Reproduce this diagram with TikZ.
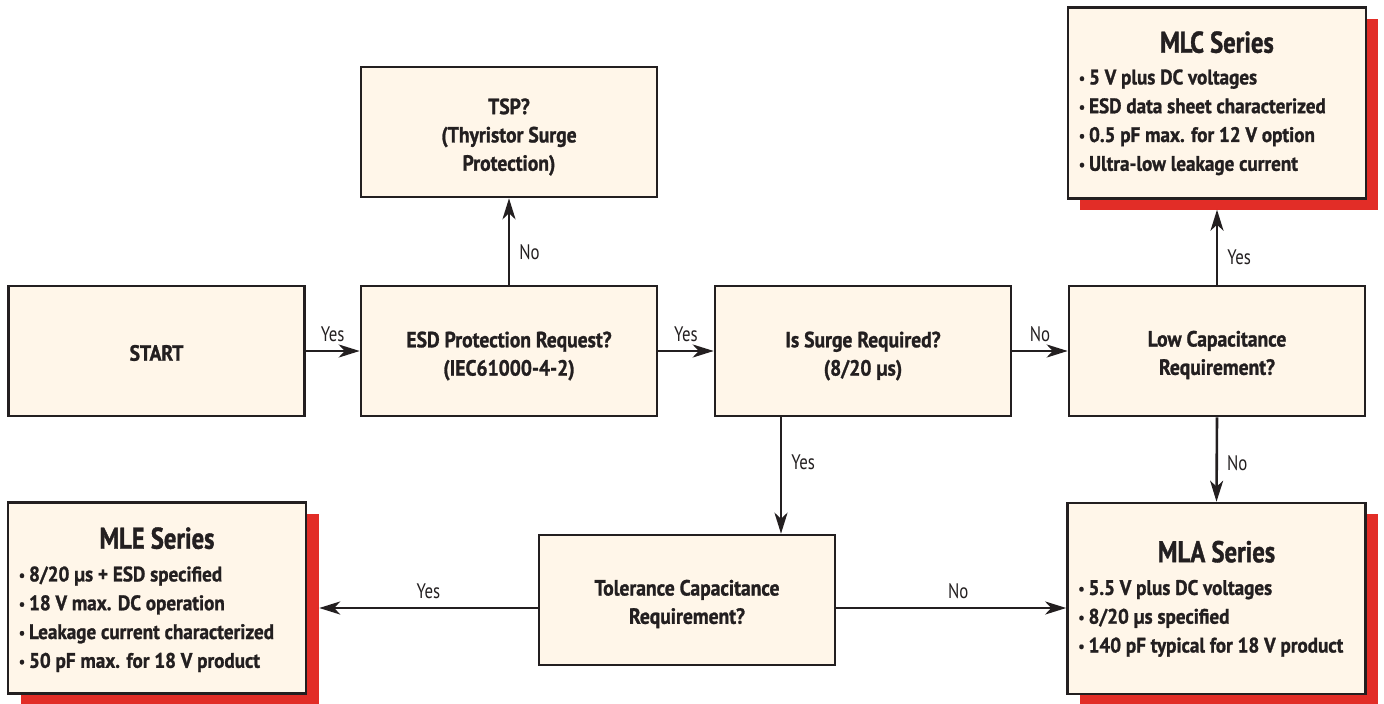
\documentclass[tikz,border=0pt]{standalone}
\usepackage{fontspec}
\setmainfont{PT Sans}[FakeStretch=0.80, BoldFeatures={FakeBold=1.2}]
\newfontfamily\boxfont{PT Sans}[FakeStretch=0.89, BoldFeatures={FakeBold=1.2}]
\newfontfamily\titlefont{PT Sans}[FakeStretch=0.82, BoldFeatures={FakeBold=1.2}]
\newfontfamily\listfont{PT Sans}[FakeStretch=0.91, BoldFeatures={FakeBold=1.2}]
\usetikzlibrary{arrows.meta}
\definecolor{boxfill}{HTML}{FFF6E9}
\definecolor{shadowred}{HTML}{E22D27}
\definecolor{ink}{HTML}{231F20}
\newcommand\mybul{{\fontsize{15}{15}\selectfont\raisebox{1pt}{\textbullet}}\hspace{4pt}}
\tikzset{
  box/.style={draw=ink, line width=2.6pt, fill=boxfill, minimum width=296pt,
    minimum height=130pt, inner sep=0pt},
  boxtext/.style={inner sep=0pt, align=center, text=ink,
    font=\boxfont\bfseries\fontsize{22}{28.3}\selectfont},
  bigbox/.style={box, minimum width=298pt, minimum height=191pt},
  redshadow/.style={fill=shadowred, draw=none, minimum width=298pt, minimum height=191pt, inner sep=0pt},
  boxtitle/.style={inner sep=0pt, text=ink, font=\titlefont\bfseries\fontsize{30}{30}\selectfont},
  boxlist/.style={inner sep=0pt, text=ink, align=left, anchor=north west,
    font=\listfont\bfseries\fontsize{21}{28.8}\selectfont},
  conn/.style={draw=ink, line width=2.6pt, -{Stealth[length=21pt, width=13pt, inset=6pt]}},
  lbl/.style={inner sep=0pt, text=ink, font=\fontsize{21}{22}\selectfont},
}
\begin{document}
\begin{tikzpicture}[x=1pt, y=-1pt]
\useasboundingbox (0,0) rectangle (1384,704);
\begin{scope}
\clip (0,0) rectangle (1384,704);
% shadows
\node[redshadow] (mlcs) at (1229,114) {};
\node[redshadow] (mles) at (170,609) {};
\node[redshadow] (mlas) at (1228.5,609.5) {};
\end{scope}
% small boxes
\node[box] (start) at (156.5,351) {};
\node[boxtext] (startt) at ([yshift=-2pt]start.center) {START};
\node[box] (tsp) at (509,132) {};
\node[boxtext] (tspt) at ([yshift=-5pt]tsp.center) {TSP?\\(Thyristor Surge\\Protection)};
\node[box] (esd) at (509,351) {};
\node[boxtext] (esdt) at ([yshift=-5pt]esd.center) {ESD Protection Request?\\(IEC61000-4-2)};
\node[box] (surge) at (863,351) {};
\node[boxtext] (surget) at ([yshift=-5pt]surge.center) {Is Surge Required?\\(8/20 µs)};
\node[box] (low) at (1217,351) {};
\node[boxtext] (lowt) at ([yshift=-4pt]low.center) {Low Capacitance\\Requirement?};
\node[box] (tol) at (687,600) {};
\node[boxtext] (tolt) at ([yshift=-4pt]tol.center) {Tolerance Capacitance\\Requirement?};
% big boxes
\node[bigbox] (mlc) at (1217,103) {};
\node[bigbox] (mle) at (157,598) {};
\node[bigbox] (mla) at (1216.5,598.5) {};
\node[boxtitle] (mlct) at ([yshift=-36pt]mlc.north) {MLC Series};
\node[boxlist] (mlcl) at ([xshift=12pt,yshift=-63pt]mlc.north west)
  {\mybul 5 V plus DC voltages\\\mybul ESD data sheet characterized\\\mybul 0.5 pF max. for 12 V option\\\mybul Ultra-low leakage current};
\node[boxtitle] (mlet) at ([yshift=-37pt]mle.north) {MLE Series};
\node[boxlist] (melel) at ([xshift=12pt,yshift=-65pt]mle.north west)
  {\mybul 8/20 µs + ESD specified\\\mybul 18 V max. DC operation\\\mybul Leakage current characterized\\\mybul 50 pF max. for 18 V product};
\node[boxtitle] (mlat) at ([yshift=-50pt]mla.north) {MLA Series};
\node[boxlist] (mlal) at ([xshift=12pt,yshift=-78pt]mla.north west)
  {\mybul 5.5 V plus DC voltages\\\mybul 8/20 µs specified\\\mybul 140 pF typical for 18 V product};
% connectors
\draw[conn] (start) -- node[lbl, above=8pt, midway] (l1) {Yes} (esd);
\draw[conn] (esd) -- node[lbl, above=8pt, midway] (l2) {Yes} (surge);
\draw[conn] (surge) -- node[lbl, above=8pt, midway] (l3) {No} (low);
\draw[conn] (esd.north) -- node[lbl, right=9pt, pos=0.38] (l4) {No} (tsp.south);
\draw[conn] (low.north) -- node[lbl, right=9pt, pos=0.37] (l5) {Yes} (low.north |- mlcs.south);
\draw[conn] (low.south) -- node[lbl, right=9pt, pos=0.54] (l6) {No} (mla.north);
\draw[conn] ([xshift=-82pt]surge.south) -- node[lbl, right=9pt, pos=0.39] (l7) {Yes} ([xshift=94pt]tol.north);
\draw[conn] ([yshift=-8pt]tol.west) -- node[lbl, above=8pt, pos=0.5] (l8) {Yes} ([yshift=-8pt]tol.west -| mles.east);
\draw[conn] ([yshift=-8pt]tol.east) -- node[lbl, above=8pt, pos=0.53] (l9) {No} ([yshift=-8pt]tol.east -| mla.west);
\end{tikzpicture}
\end{document}
